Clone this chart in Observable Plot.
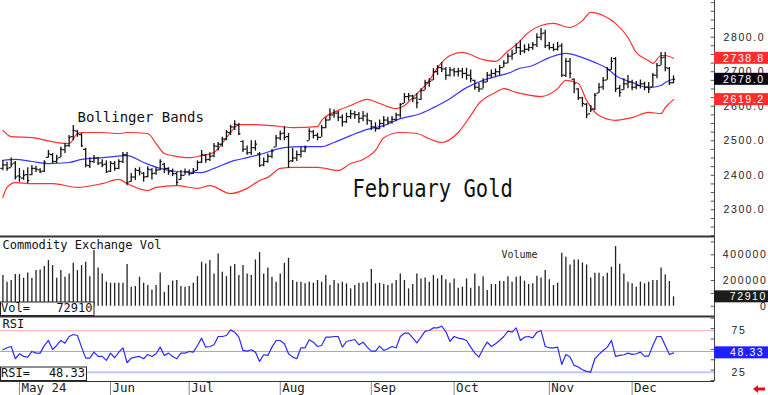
<!DOCTYPE html>
<html><head><meta charset="utf-8">
<script src="https://cdn.jsdelivr.net/npm/d3@7"></script>
<script src="https://cdn.jsdelivr.net/npm/@observablehq/plot@0.6"></script>
<style>
body{margin:0;background:#fff;}
#wrap{position:relative;width:768px;height:395px;overflow:hidden;background:#fff;}
#wrap svg{position:absolute;left:0;overflow:visible;}
#wrap g[aria-label="y-axis tick label"] text{letter-spacing:1.6px;}
</style></head><body><div id="wrap"></div>
<script>
// ---- price bars (February Gold), one per trading day ----
const high=[2442,2438,2450,2440,2420,2414,2422,2428,2426,2419,
2442,2472,2463,2458,2481,2492,2515,2544,2530,2521,
2478,2451,2457,2451,2445,2442,2440,2440,2445,2466,
2466,2405,2420,2422,2408,2425,2420,2422,2445,2435,
2422,2418,2408,2414,2418,2415,2420,2442,2472,2460,
2465,2492,2495,2510,2530,2545,2558,2550,2500,2485,
2500,2500,2466,2450,2462,2475,2515,2528,2541,2521,
2478,2470,2481,2485,2535,2530,2522,2544,2567,2593,
2590,2585,2575,2580,2588,2585,2582,2585,2580,2558,
2552,2560,2570,2568,2570,2580,2608,2637,2637,2632,
2637,2651,2675,2680,2709,2718,2727,2712,2712,2710,
2710,2710,2710,2705,2675,2666,2680,2698,2705,2708,
2718,2732,2752,2762,2781,2790,2778,2780,2785,2810,
2825,2820,2785,2780,2785,2781,2738,2738,2680,2651,
2626,2608,2602,2637,2666,2683,2712,2741,2741,2660,
2680,2689,2675,2672,2676,2670,2669,2695,2724,2756,
2756,2712,2688];
const low=[2413,2412,2422,2386,2380,2385,2376,2399,2408,2405,
2408,2450,2434,2434,2451,2463,2481,2500,2510,2481,
2422,2420,2434,2428,2422,2405,2408,2412,2416,2434,
2370,2380,2385,2398,2380,2392,2386,2400,2413,2405,
2400,2396,2370,2385,2400,2398,2402,2413,2434,2435,
2440,2451,2470,2481,2500,2515,2530,2515,2466,2458,
2457,2470,2423,2425,2435,2448,2481,2500,2500,2420,
2437,2440,2450,2465,2500,2505,2500,2510,2535,2558,
2565,2555,2540,2550,2562,2562,2550,2555,2545,2530,
2525,2532,2538,2545,2548,2555,2565,2608,2615,2610,
2593,2617,2646,2655,2675,2689,2698,2675,2685,2685,
2685,2680,2675,2668,2646,2640,2650,2669,2680,2685,
2689,2712,2723,2733,2752,2747,2752,2758,2762,2770,
2790,2767,2762,2758,2760,2683,2683,2680,2636,2617,
2597,2564,2582,2588,2637,2646,2675,2704,2640,2626,
2646,2651,2645,2648,2650,2645,2637,2655,2680,2718,
2700,2660,2665];
const close=[2430,2420,2432,2395,2395,2400,2385,2420,2418,2410,
2438,2462,2440,2448,2475,2485,2510,2530,2520,2485,
2430,2440,2450,2435,2430,2410,2435,2420,2440,2460,
2378,2395,2415,2410,2395,2418,2405,2415,2440,2420,
2410,2405,2380,2400,2410,2405,2412,2437,2460,2445,
2455,2485,2490,2505,2525,2540,2548,2520,2475,2465,
2480,2490,2428,2440,2455,2470,2508,2520,2510,2440,
2450,2460,2470,2480,2528,2515,2510,2538,2560,2575,
2580,2568,2555,2570,2578,2575,2565,2572,2560,2540,
2535,2550,2560,2555,2562,2575,2605,2628,2630,2622,
2610,2645,2668,2672,2700,2712,2708,2690,2705,2700,
2702,2695,2690,2680,2655,2650,2670,2690,2695,2700,
2712,2725,2745,2750,2770,2760,2765,2770,2778,2800,
2810,2775,2770,2765,2772,2690,2730,2695,2665,2625,
2608,2575,2590,2632,2655,2675,2705,2730,2650,2640,
2665,2670,2655,2660,2665,2655,2650,2690,2718,2740,
2712,2668,2678];
const open=[2420,2430,2422,2435,2398,2392,2402,2402,2420,2416,
2412,2452,2460,2440,2452,2474,2486,2512,2528,2518,
2475,2428,2440,2450,2436,2432,2412,2434,2420,2440,
2460,2382,2395,2414,2406,2396,2416,2406,2416,2432,
2420,2412,2405,2388,2400,2410,2405,2414,2438,2458,
2446,2456,2484,2490,2505,2524,2540,2546,2498,2476,
2466,2480,2462,2430,2440,2455,2482,2508,2522,2512,
2442,2450,2460,2470,2500,2526,2516,2510,2538,2560,
2575,2580,2568,2555,2570,2578,2576,2565,2572,2558,
2540,2535,2550,2560,2555,2562,2575,2608,2628,2630,
2624,2620,2646,2668,2676,2700,2712,2708,2690,2705,
2700,2702,2695,2690,2675,2655,2650,2670,2690,2695,
2700,2712,2725,2745,2753,2770,2760,2765,2770,2778,
2800,2812,2776,2770,2765,2775,2690,2730,2678,2650,
2624,2606,2578,2592,2638,2656,2676,2706,2738,2652,
2648,2665,2670,2655,2660,2665,2656,2656,2690,2718,
2742,2710,2668];
// ---- Bollinger bands read at sample days: [day index, price] ----
const upperBand=[[0,2530],[2,2512],[7,2509],[13,2495],[16,2492],[18,2521],[19,2524],[24,2524],[28,2521],[30,2524],[35,2521],[37,2492],[39,2463],[41,2457],[45,2451],[48,2457],[51,2466],[54,2509],[56,2538],[57,2547],[61,2547],[65,2544],[70,2538],[76,2541],[77,2559],[81,2588],[84,2602],[88,2620],[91,2608],[95,2593],[97,2602],[99,2625],[103,2675],[105,2712],[108,2747],[111,2756],[116,2735],[119,2730],[122,2760],[124,2778],[127,2814],[130,2834],[133,2840],[137,2828],[140,2848],[142,2872],[145,2863],[148,2840],[151,2799],[153,2756],[156,2732],[157,2724],[159,2747],[160,2747],[162,2738.8]];
const middleBand=[[0,2443],[3,2446],[7,2440],[11,2434],[16,2437],[19,2446],[24,2451],[30,2457],[34,2437],[38,2420],[42,2411],[48,2408],[51,2420],[56,2443],[59,2451],[62,2460],[68,2480],[72,2483],[77,2483],[80,2495],[84,2515],[88,2533],[92,2544],[96,2564],[101,2579],[104,2596],[108,2622],[112,2654],[116,2675],[119,2686],[123,2700],[124,2706],[128,2718],[132,2741],[136,2753],[140,2741],[143,2727],[146,2709],[148,2689],[152,2669],[156,2654],[159,2660],[160,2669],[162,2679]];
const lowerBand=[[0,2336],[1,2365],[3,2379],[7,2376],[12,2376],[18,2365],[24,2376],[28,2388],[30,2376],[35,2356],[37,2365],[42,2370],[47,2362],[50,2370],[55,2347],[59,2362],[62,2385],[64,2394],[67,2420],[70,2423],[76,2423],[81,2414],[84,2434],[87,2446],[90,2472],[92,2509],[96,2524],[100,2521],[103,2506],[106,2495],[110,2524],[113,2573],[115,2608],[119,2640],[121,2651],[124,2640],[130,2628],[134,2651],[136,2675],[139,2666],[141,2617],[144,2573],[148,2559],[152,2567],[156,2582],[159,2579],[160,2596],[162,2619.2]];
// ---- volume (thousands of contracts) ----
const volumeK=[239,187,200,246,246,218,259,218,277,282,
308,355,316,218,277,225,251,334,277,316,
342,230,433,298,251,187,179,179,179,179,
324,148,153,225,179,161,127,161,259,109,
161,195,200,153,148,153,179,230,342,329,
355,251,407,264,230,308,324,239,316,251,
239,360,417,251,298,225,187,251,334,373,
200,187,187,174,187,179,200,187,239,161,
200,174,187,174,135,161,179,179,187,285,
174,179,168,161,174,200,251,200,135,169,
251,212,220,187,239,212,239,205,179,212,
140,148,212,140,251,153,230,122,169,169,
195,192,230,187,225,230,195,169,174,233,
220,277,205,161,179,412,381,321,360,360,
337,321,220,256,256,230,256,303,464,327,
251,187,174,148,187,174,187,200,200,298,
243,192,72.91];
// ---- RSI ----
const rsi=[52,54.4,56,41.2,47.2,44,43.2,50,48,48,
57,63.2,52.4,57.2,63.2,60,68,70.4,69.2,55.2,
42,42,49.2,44,44,39.2,48,42.4,49.2,54.4,
36.4,42,43.2,44,41.2,46.4,44,47.2,55.2,45.2,
48,44,41.2,48,48,50,49.2,57.2,66,55.2,
56,58,68,68,69.2,76,73.2,67.2,51.2,50.4,
52,49.2,38,46,45.2,55.2,63.2,63.2,59.2,47.2,
43.2,41.2,54.4,54.4,64,61.2,56,57.2,67.2,67.2,
68,68,55.2,62,63.2,64.4,58,61.2,55.2,50.4,
50.4,56.4,51.2,53.2,56,54.4,68,72,72,66.4,
60.4,67.2,74.4,75.2,78.4,78.4,80.4,74,62,68,
66,65.2,63.2,55.2,48,43.2,53.2,61.2,56,59.2,
63.2,68,74.4,73.2,78.4,63.2,67.2,68,66.4,73.2,
75.2,56,54.4,54.4,55.2,34.4,46.4,43.2,33.2,31.2,
28,26,25.2,41.2,46.4,51.2,55.2,63.2,44,45.2,
46,48,46.4,47.2,49.2,44.4,44.4,57.2,68,68,
57.2,46.4,48.33];
// ---- axis labels ----
const monthIdx=[4,26,45,67,89,109,132,152];
const monthLabels=["May 24","Jun","Jul","Aug","Sep","Oct","Nov","Dec"];
const priceTicks=[2300,2400,2500,2600,2700,2800];
const volTicksK=[0,200,400];
const rsiTicks=[25,75];
const rsiLevels=[75,50,25];
const lastUpper=2738.8, lastClose=2678.0, lastLower=2619.2, lastVol=72910, lastRsi=48.33;

const bars=close.map((c,i)=>({i,o:open[i],h:high[i],l:low[i],c}));
const vols=volumeK.map((v,i)=>({i,v}));
const rsis=rsi.map((r,i)=>({i,r}));

const W=768, MR=54;
const xDom=[-0.58,171.9];
const mono="DejaVu Sans Mono, monospace";
const sans="Liberation Sans, Arial, sans-serif";
const baseStyle={background:"transparent",fontFamily:sans,fontSize:"10.5px",color:"#222",overflow:"visible"};
const wrap=document.getElementById("wrap");

// ---------- price panel ----------
const pYDom=[2222.7,2906.3];
const price=Plot.plot({
  width:W,height:236,marginLeft:0,marginRight:MR,marginTop:0,marginBottom:0,
  style:baseStyle,
  x:{domain:xDom,axis:null},
  y:{domain:pYDom,axis:null,label:null},
  marks:[
    Plot.ruleY(d3.range(2225,2906,25),{x1:xDom[1]-0.8,x2:xDom[1],stroke:"#555",strokeWidth:1}),
    Plot.line(upperBand,{x:d=>d[0],y:d=>d[1],stroke:"#ff3030",strokeWidth:1.2,curve:"monotone-x"}),
    Plot.line(lowerBand,{x:d=>d[0],y:d=>d[1],stroke:"#ff3030",strokeWidth:1.2,curve:"monotone-x"}),
    Plot.line(middleBand,{x:d=>d[0],y:d=>d[1],stroke:"#3636ff",strokeWidth:1.2,curve:"monotone-x"}),
    Plot.ruleX(bars,{x:"i",y1:"l",y2:"h",stroke:"#111",strokeWidth:1.3}),
    Plot.ruleY(bars,{y:"o",x1:d=>d.i-0.5,x2:"i",stroke:"#111",strokeWidth:1.2}),
    Plot.ruleY(bars,{y:"c",x1:"i",x2:d=>d.i+0.5,stroke:"#111",strokeWidth:1.2}),
    Plot.text(["Bollinger Bands"],{frameAnchor:"top-left",lineAnchor:"bottom",dx:77,dy:121,textAnchor:"start",fontFamily:mono,fontSize:14,fill:"#111"}),
    Plot.text(["February Gold"],{frameAnchor:"top-left",lineAnchor:"bottom",dx:352,dy:196.7,textAnchor:"start",fontFamily:mono,fontSize:20.5,fill:"#111"}),
    Plot.axisY({anchor:"right",label:null,ticks:priceTicks,tickSize:0,tickPadding:9,textAnchor:"start",tickFormat:d=>d.toFixed(1),fontFamily:sans,fontSize:10.5,fill:"#222"}),
    Plot.ruleX([xDom[1]],{stroke:"#444",strokeWidth:1}),
    Plot.ruleY([pYDom[0]],{stroke:"#333",strokeWidth:2})
  ]
});
price.style.top="0px";
wrap.appendChild(price);
// stretch the "February Gold" caption vertically (the reference font is tall and narrow)
d3.select(price).selectAll('g[aria-label="text"]').each(function(){
  if(this.textContent.indexOf("February")>=0){
    const holder=document.createElementNS("http://www.w3.org/2000/svg","g");
    this.parentNode.insertBefore(holder,this);
    holder.appendChild(this);
    holder.setAttribute("transform","translate(0,196.7) scale(1,1.25) translate(0,-196.7)");
  }
});

// ---------- volume panel ----------
const vYDom=[-80.2,542.4];
const volume=Plot.plot({
  width:W,height:80,marginLeft:0,marginRight:MR,marginTop:0,marginBottom:0,
  style:baseStyle,
  x:{domain:xDom,axis:null},
  y:{domain:vYDom,axis:null,label:null},
  marks:[
    Plot.ruleY(d3.range(0,542,100),{x1:xDom[1]-0.8,x2:xDom[1],stroke:"#555",strokeWidth:1}),
    Plot.ruleX(vols,{x:"i",y1:0,y2:"v",stroke:"#222",strokeWidth:1.3}),
    Plot.text(["Commodity Exchange Vol"],{frameAnchor:"top-left",lineAnchor:"bottom",dx:2,dy:12.3,textAnchor:"start",fontFamily:mono,fontSize:12,fill:"#111"}),
    Plot.text(["Volume"],{frameAnchor:"top-left",lineAnchor:"bottom",dx:501,dy:21.3,textAnchor:"start",fontFamily:mono,fontSize:10,fill:"#222"}),
    Plot.axisY({anchor:"right",label:null,ticks:volTicksK,tickSize:0,tickPadding:53,textAnchor:"end",tickFormat:d=>String(d*1000),fontFamily:sans,fontSize:10.5,fill:"#222"}),
    Plot.ruleX([xDom[1]],{stroke:"#444",strokeWidth:1}),
    Plot.ruleY([vYDom[0]],{stroke:"#333",strokeWidth:2})
  ]
});
volume.style.top="236px";
wrap.appendChild(volume);

// ---------- RSI panel ----------
const rYDom=[13.8,92.1];
const rsiPlot=Plot.plot({
  width:W,height:79,marginLeft:0,marginRight:MR,marginTop:0,marginBottom:14,
  style:baseStyle,
  x:{domain:xDom,axis:null,label:null},
  y:{domain:rYDom,axis:null,label:null},
  marks:[
    Plot.ruleY(d3.range(15,92,12.5),{x1:xDom[1]-0.8,x2:xDom[1],stroke:"#555",strokeWidth:1}),
    Plot.ruleY([rsiLevels[0]],{stroke:"#ffaaaa",strokeWidth:1}),
    Plot.ruleY([rsiLevels[1]],{stroke:"#a8a8a8",strokeWidth:1}),
    Plot.ruleY([rsiLevels[2]],{stroke:"#c4c4ff",strokeWidth:2}),
    Plot.line(rsis,{x:"i",y:"r",stroke:"#2a2aff",strokeWidth:1.2}),
    Plot.text(["RSI"],{frameAnchor:"top-left",lineAnchor:"bottom",dx:2,dy:11.3,textAnchor:"start",fontFamily:mono,fontSize:12,fill:"#111"}),
    Plot.axisY({anchor:"right",label:null,ticks:rsiTicks,tickSize:0,tickPadding:17,textAnchor:"start",tickFormat:d=>String(d),fontFamily:sans,fontSize:10.5,fill:"#222"}),
    Plot.axisX({anchor:"bottom",label:null,ticks:monthIdx,tickSize:14,tickFormat:()=>"",stroke:"#888"}),
    Plot.text(monthIdx,{x:d=>d,text:(d,i)=>monthLabels[i],frameAnchor:"bottom",lineAnchor:"bottom",dy:10.5,dx:2,textAnchor:"start",fontFamily:mono,fontSize:12.5,fill:"#222"}),
    Plot.ruleX([xDom[1]],{stroke:"#444",strokeWidth:1}),
    Plot.ruleY([rYDom[0]],{stroke:"#333",strokeWidth:1})
  ]
});
rsiPlot.style.top="316px";
wrap.appendChild(rsiPlot);

// ---------- value tags on the right scale ----------
function valueTag(plot,v,label,fill,tx,anchor){
  const y=plot.scale("y").apply(v);
  const g=d3.select(plot).append("g");
  g.append("rect").attr("x",714).attr("y",y-6).attr("width",54).attr("height",12).attr("fill",fill);
  g.append("text").attr("x",tx).attr("y",y).attr("dy","0.36em").attr("text-anchor",anchor)
    .attr("fill","#fff").style("font-family",sans).style("font-size","10.5px").style("letter-spacing","1.6px").text(label);
}
valueTag(price,lastUpper,lastUpper.toFixed(1),"#ff2d2d",723,"start");
valueTag(price,lastLower,lastLower.toFixed(1),"#ff2d2d",723,"start");
valueTag(price,lastClose,lastClose.toFixed(1),"#050514",723,"start");
valueTag(volume,lastVol/1000,String(lastVol),"#1c1c1c",767,"end");
valueTag(rsiPlot,lastRsi,lastRsi.toFixed(2),"#1f1fff",730,"start");

// ---------- readout boxes at left ----------
function readout(plot,yTop,w,name,val){
  const g=d3.select(plot).append("g").style("font-family",mono).style("font-size","12px").attr("fill","#111");
  g.append("rect").attr("x",0.5).attr("y",yTop+0.5).attr("width",w).attr("height",13.5).attr("fill","#fff").attr("stroke","#222");
  g.append("text").attr("x",1).attr("y",yTop+10.5).attr("text-anchor","start").text(name);
  g.append("text").attr("x",w-1).attr("y",yTop+10.5).attr("text-anchor","end").text(val);
}
readout(volume,65.5,93.5,"Vol=",String(lastVol));
readout(rsiPlot,50.5,86,"RSI=",lastRsi.toFixed(2));

// small red scroll arrow, bottom right
d3.select(rsiPlot).append("path")
  .attr("d","M753,73 L758,69 L758,71.5 L765,71.5 L765,74.5 L758,74.5 L758,77 Z")
  .attr("fill","#e01010");
</script></body></html>
